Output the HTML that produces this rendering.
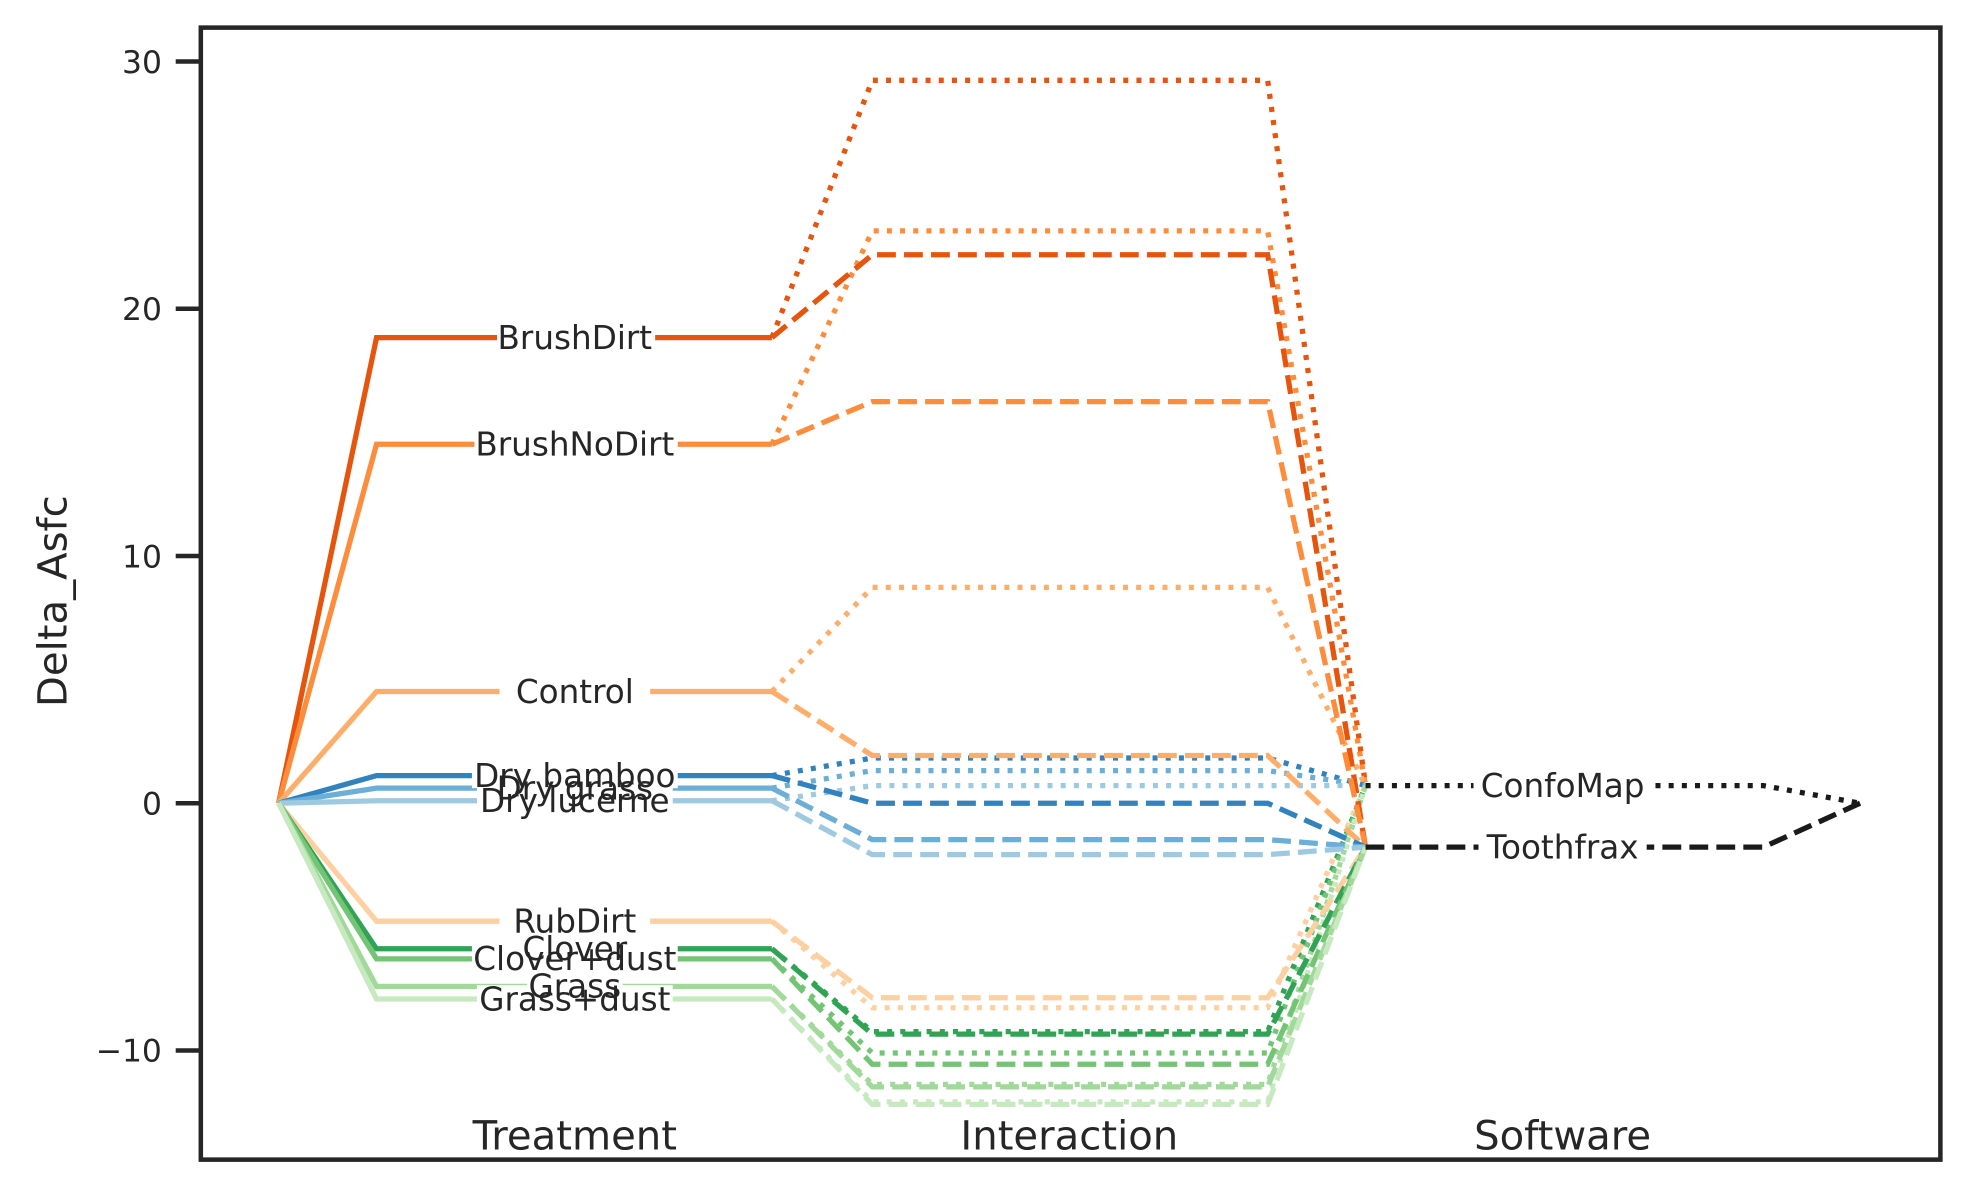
<!DOCTYPE html>
<html><head><meta charset="utf-8"><style>
html,body{margin:0;padding:0;background:#fff;}
svg{display:block;}
text{font-family:"DejaVu Sans","Liberation Sans",sans-serif;fill:#262626;}
</style></head><body>
<svg width="1968" height="1189" viewBox="0 0 1568 947.4" preserveAspectRatio="none" xmlns="http://www.w3.org/2000/svg">
<rect x="0" y="0" width="1568" height="948" fill="#fff"/>
<g fill="none" stroke-width="4.2" stroke-linejoin="miter">
<polyline points="222,640 300,269 615,269" stroke="#e6550d"/>
<polyline points="222,640 300,354 615,354" stroke="#fd8d3c"/>
<polyline points="222,640 300,551 615,551" stroke="#fdae6b"/>
<polyline points="222,640 300,618 615,618" stroke="#3182bd"/>
<polyline points="222,640 300,628 615,628" stroke="#6baed6"/>
<polyline points="222,640 300,638 615,638" stroke="#9ecae1"/>
<polyline points="222,640 300,734 615,734" stroke="#fdd0a2"/>
<polyline points="222,640 300,756 615,756" stroke="#31a354"/>
<polyline points="222,640 300,764 615,764" stroke="#74c476"/>
<polyline points="222,640 300,786 615,786" stroke="#a1d99b"/>
<polyline points="222,640 300,796 615,796" stroke="#c7e9c0"/>
</g>
<g fill="none" stroke-width="4.2">
<g stroke-dasharray="4,6.5">
<polyline points="615,269 695,64 1010,64 1088,626" stroke="#e6550d"/>
<polyline points="615,354 695,184 1010,184 1088,626" stroke="#fd8d3c"/>
<polyline points="615,551 695,468 1010,468 1088,626" stroke="#fdae6b"/>
<polyline points="615,618 695,604 1010,604 1088,626" stroke="#3182bd"/>
<polyline points="615,628 695,614 1010,614 1088,626" stroke="#6baed6"/>
<polyline points="615,638 695,626 1010,626 1088,626" stroke="#9ecae1"/>
<polyline points="615,734 695,803 1010,803 1088,626" stroke="#fdd0a2"/>
<polyline points="615,756 695,822 1010,822 1088,626" stroke="#31a354"/>
<polyline points="615,764 695,839 1010,839 1088,626" stroke="#74c476"/>
<polyline points="615,786 695,864 1010,864 1088,626" stroke="#a1d99b"/>
<polyline points="615,796 695,878 1010,878 1088,626" stroke="#c7e9c0"/>
</g>
<g stroke-dasharray="15,6.5">
<polyline points="615,269 695,203 1010,203 1088,675" stroke="#e6550d"/>
<polyline points="615,354 695,320 1010,320 1088,675" stroke="#fd8d3c"/>
<polyline points="615,551 695,602 1010,602 1088,675" stroke="#fdae6b"/>
<polyline points="615,618 695,640 1010,640 1088,675" stroke="#3182bd"/>
<polyline points="615,628 695,669 1010,669 1088,675" stroke="#6baed6"/>
<polyline points="615,638 695,681 1010,681 1088,675" stroke="#9ecae1"/>
<polyline points="615,734 695,795 1010,795 1088,675" stroke="#fdd0a2"/>
<polyline points="615,756 695,824 1010,824 1088,675" stroke="#31a354"/>
<polyline points="615,764 695,848 1010,848 1088,675" stroke="#74c476"/>
<polyline points="615,786 695,866 1010,866 1088,675" stroke="#a1d99b"/>
<polyline points="615,796 695,880 1010,880 1088,675" stroke="#c7e9c0"/>
</g>
<polyline points="1088,626 1405,626 1482,640" stroke="#1a1a1a" stroke-dasharray="4,6.5"/>
<polyline points="1088,675 1405,675 1482,640" stroke="#1a1a1a" stroke-dasharray="15,6.5"/>
</g>
<g fill="#fff">
<rect x="396" y="256" width="126" height="26"/>
<rect x="378" y="341" width="162" height="26"/>
<rect x="398" y="538" width="120" height="26"/>
<rect x="376" y="606" width="164" height="22"/>
<rect x="396" y="617" width="124" height="20"/>
<rect x="380" y="627" width="156" height="20"/>
<rect x="398" y="721" width="120" height="26"/>
<rect x="416" y="745" width="84" height="20"/>
<rect x="376" y="753" width="164" height="20"/>
<rect x="420" y="775" width="76" height="20"/>
<rect x="380" y="785" width="156" height="20"/>
<rect x="1174" y="613" width="142" height="26"/>
<rect x="1178" y="662" width="134" height="26"/>
</g>
<g font-size="26" text-anchor="middle">
<text x="458" y="278">BrushDirt</text>
<text x="458" y="363">BrushNoDirt</text>
<text x="458" y="560">Control</text>
<text x="458" y="627">Dry bamboo</text>
<text x="458" y="637">Dry grass</text>
<text x="458" y="647">Dry lucerne</text>
<text x="458" y="743">RubDirt</text>
<text x="458" y="765">Clover</text>
<text x="458" y="773">Clover+dust</text>
<text x="458" y="795">Grass</text>
<text x="458" y="805">Grass+dust</text>
<text x="1245" y="635">ConfoMap</text>
<text x="1245" y="684">Toothfrax</text>
</g>
<g font-size="32" text-anchor="middle">
<text x="458" y="916">Treatment</text>
<text x="852" y="916">Interaction</text>
<text x="1245" y="916">Software</text>
</g>
<rect x="160" y="22" width="1386" height="902" fill="none" stroke="#262626" stroke-width="3.6"/>
<g stroke="#262626" stroke-width="3.6">
<line x1="140" y1="49" x2="160" y2="49"/>
<line x1="140" y1="246" x2="160" y2="246"/>
<line x1="140" y1="443" x2="160" y2="443"/>
<line x1="140" y1="640" x2="160" y2="640"/>
<line x1="140" y1="837" x2="160" y2="837"/>
</g>
<g font-size="25" text-anchor="end">
<text x="129" y="58">30</text>
<text x="129" y="255">20</text>
<text x="129" y="452">10</text>
<text x="129" y="649">0</text>
<text x="129" y="846">−10</text>
</g>
<text x="0" y="0" font-size="32" text-anchor="middle" transform="translate(53,479) rotate(-90)">Delta_Asfc</text>
</svg>
</body></html>
